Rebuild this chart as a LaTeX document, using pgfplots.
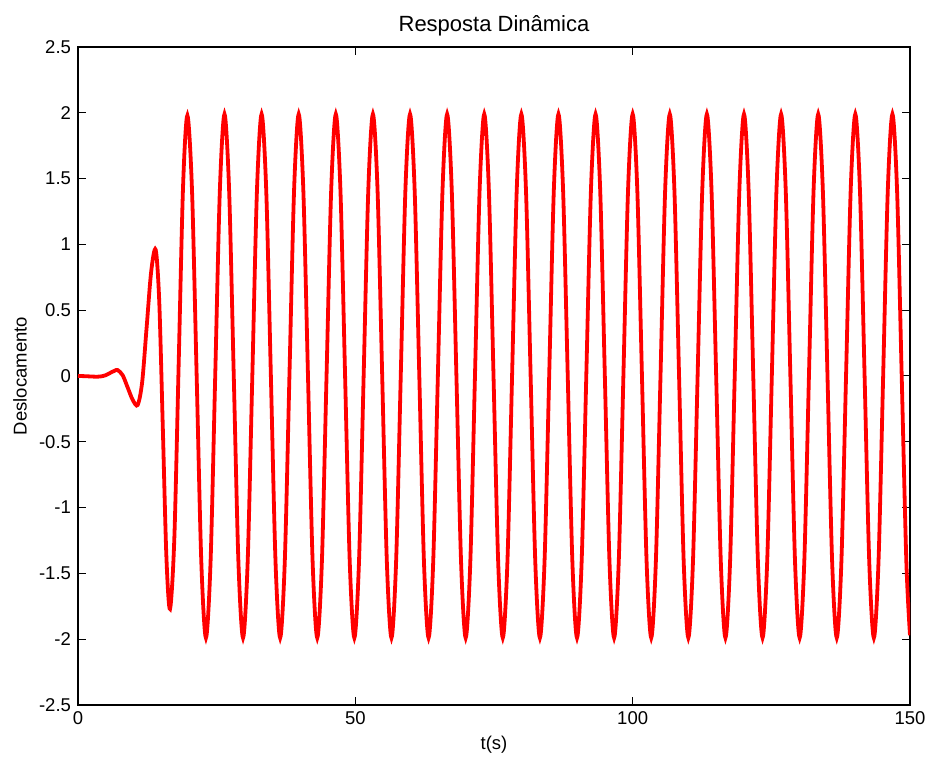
\documentclass[border=0pt]{standalone}
\usepackage{pgfplots}
\pgfplotsset{compat=1.18}
\usepackage{pgfplotstable}
\usepackage{fontspec}
\setmainfont{Liberation Sans}
\pgfplotstableread{
t y
0 0
1 -0.001
2 -0.003
3 -0.005
4 -0.004
5 0.006
6 0.028
6.6 0.040
7.15 0.045
8.05 0.006
8.96 -0.088
9.86 -0.181
10.76 -0.220
11.57 -0.046
12.38 0.373
13.19 0.792
14.00 0.960
14.65 0.564
15.30 -0.407
15.94 -1.378
16.59 -1.770
17.37 -1.230
18.16 0.110
18.94 1.440
19.72 1.980
20.556 1.41
21.393 0
22.229 -1.41
23.065 -1.99
23.901 -1.41
24.738 0
25.574 1.41
26.41 1.99
27.246 1.41
28.083 0
28.919 -1.41
29.755 -1.99
30.591 -1.41
31.428 0
32.264 1.41
33.10 1.99
33.936 1.41
34.773 0
35.609 -1.41
36.445 -1.99
37.281 -1.41
38.118 0
38.954 1.41
39.79 1.99
40.626 1.41
41.463 0
42.299 -1.41
43.135 -1.99
43.971 -1.41
44.808 0
45.644 1.41
46.48 1.99
47.316 1.41
48.153 0
48.989 -1.41
49.825 -1.99
50.661 -1.41
51.498 0
52.334 1.41
53.17 1.99
54.006 1.41
54.843 0
55.679 -1.41
56.515 -1.99
57.351 -1.41
58.188 0
59.024 1.41
59.86 1.99
60.696 1.41
61.533 0
62.369 -1.41
63.205 -1.99
64.041 -1.41
64.878 0
65.714 1.41
66.55 1.99
67.386 1.41
68.223 0
69.059 -1.41
69.895 -1.99
70.731 -1.41
71.568 0
72.404 1.41
73.24 1.99
74.076 1.41
74.913 0
75.749 -1.41
76.585 -1.99
77.421 -1.41
78.258 0
79.094 1.41
79.93 1.99
80.766 1.41
81.603 0
82.439 -1.41
83.275 -1.99
84.111 -1.41
84.948 0
85.784 1.41
86.62 1.99
87.456 1.41
88.293 0
89.129 -1.41
89.965 -1.99
90.801 -1.41
91.638 0
92.474 1.41
93.31 1.99
94.146 1.41
94.983 0
95.819 -1.41
96.655 -1.99
97.491 -1.41
98.328 0
99.164 1.41
100.00 1.99
100.836 1.41
101.673 0
102.509 -1.41
103.345 -1.99
104.181 -1.41
105.018 0
105.854 1.41
106.69 1.99
107.526 1.41
108.363 0
109.199 -1.41
110.035 -1.99
110.871 -1.41
111.708 0
112.544 1.41
113.38 1.99
114.216 1.41
115.053 0
115.889 -1.41
116.725 -1.99
117.561 -1.41
118.398 0
119.234 1.41
120.07 1.99
120.906 1.41
121.743 0
122.579 -1.41
123.415 -1.99
124.251 -1.41
125.088 0
125.924 1.41
126.76 1.99
127.596 1.41
128.433 0
129.269 -1.41
130.105 -1.99
130.941 -1.41
131.778 0
132.614 1.41
133.45 1.99
134.286 1.41
135.123 0
135.959 -1.41
136.795 -1.99
137.631 -1.41
138.468 0
139.304 1.41
140.14 1.99
140.976 1.41
141.813 0
142.649 -1.41
143.485 -1.99
144.321 -1.41
145.158 0
145.994 1.41
146.83 1.99
147.666 1.41
148.503 0
149.339 -1.41
150 -1.97
}\resposta
\begin{document}
\begin{tikzpicture}
\path[use as bounding box] (-39pt,-26.5pt) rectangle (426pt,352.5pt);
\begin{axis}[
  scale only axis, width=416pt, height=329pt,
  at={(0pt,0pt)}, anchor=south west,
  xmin=0, xmax=150, ymin=-2.5, ymax=2.5,
  xtick={0,50,100,150}, xticklabels={0,50,100,150},
  ytick={-2.5,-2,-1.5,-1,-0.5,0,0.5,1,1.5,2,2.5},
  yticklabels={-2.5,-2,-1.5,-1,-0.5,0,0.5,1,1.5,2,2.5},
  tick align=inside, tick pos=both,
  major tick length=4pt,
  tick style={black, line width=0.5pt},
  axis line style={black, line width=0.6pt},
  ticklabel style={font=\fontsize{9.25}{11}\selectfont},
  title={Resposta Dinâmica},
  title style={font=\fontsize{11}{13}\selectfont, at={(axis description cs:0.5,1.0334)}, anchor=center, yshift=-6.5pt},
  xlabel={t(s)}, ylabel={Deslocamento},
  label style={font=\fontsize{9.25}{11}\selectfont},
  xlabel style={at={(axis description cs:0.5,-0.0608)}, anchor=center},
  ylabel style={at={(axis description cs:-0.0697,0.5)}, anchor=center},
]
\addplot[red, line width=1.9pt, smooth, no markers] table[x=t, y=y] {\resposta};
\end{axis}
\end{tikzpicture}
\end{document}
